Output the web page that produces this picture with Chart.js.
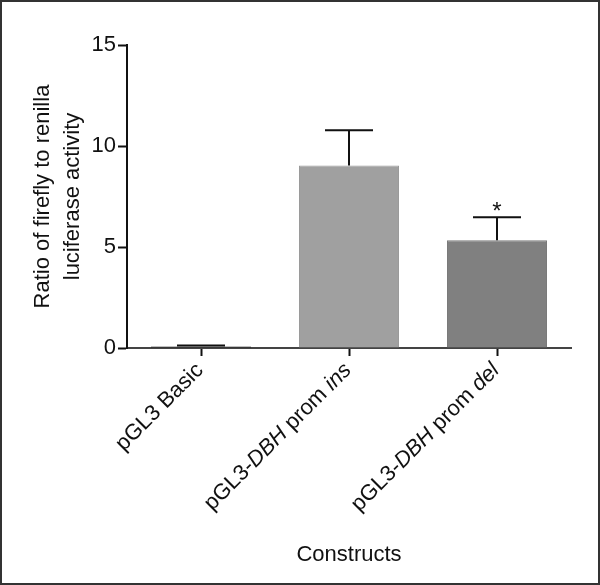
<!DOCTYPE html>
<html><head><meta charset="utf-8">
<script src="https://cdn.jsdelivr.net/npm/chart.js@4/dist/chart.umd.min.js"></script>
<style>
html,body{margin:0;padding:0;background:#fff;}
#wrap{position:relative;width:600px;height:585px;}
#frame{position:absolute;left:0;top:0;width:600px;height:585px;box-sizing:border-box;border:2px solid #333;pointer-events:none;}
canvas{display:block;}
</style></head><body>
<div id="wrap"><canvas id="c" width="600" height="585"></canvas><div id="frame"></div></div>
<script>
// ---- data ----
const categories = ['pGL3 Basic', 'pGL3-DBH prom ins', 'pGL3-DBH prom del'];
const italicTerms = [[], ['DBH', 'ins'], ['DBH', 'del']];
const means = [0.08, 9.03, 5.33];
const errors = [0.04, 1.75, 1.14];
const significance = ['', '', '*'];
const barColors = ['#111111', '#a0a0a0', '#808080'];
const barBorders = ['#000000', '#9a9a9a', '#7a7a7a'];
const yTicks = [0, 5, 10, 15];
const yTitle = ['Ratio of firefly to renilla', 'luciferase activity'];
const xTitle = 'Constructs';

const FONT = "'Liberation Sans', Arial, Helvetica, sans-serif";

function segmentsFor(label, terms) {
  const segs = [];
  const parts = label.split(/(\s|-)/);
  let cur = '', curIt = false;
  parts.forEach(p => {
    if (p === '') return;
    const it = terms.includes(p);
    if (cur !== '' && it !== curIt) { segs.push([cur, curIt]); cur = ''; }
    if (cur === '') curIt = it;
    cur += p;
  });
  if (cur !== '') segs.push([cur, curIt]);
  return segs;
}

const overlay = {
  id: 'overlay',
  afterDatasetsDraw(chart) {
    const ctx = chart.ctx;
    const y = chart.scales.y;
    const meta = chart.getDatasetMeta(0);
    ctx.save();
    ctx.strokeStyle = '#111';
    ctx.lineWidth = 2;
    meta.data.forEach((bar, i) => {
      const cx = bar.x;
      const top = y.getPixelForValue(means[i]);
      const et = y.getPixelForValue(means[i] + errors[i]);
      const half = bar.width * 0.24;
      ctx.beginPath();
      ctx.moveTo(cx, top);
      ctx.lineTo(cx, et);
      ctx.moveTo(cx - half, et);
      ctx.lineTo(cx + half, et);
      ctx.stroke();
      if (significance[i]) {
        ctx.fillStyle = '#111';
        ctx.font = '24px ' + FONT;
        ctx.textAlign = 'center';
        ctx.textBaseline = 'alphabetic';
        ctx.fillText(significance[i], cx, et + 2);
      }
    });
    ctx.restore();
  },
  afterDraw(chart) {
    const ctx = chart.ctx;
    const x = chart.scales.x;
    ctx.save();
    ctx.fillStyle = '#111';
    ctx.textBaseline = 'middle';
    categories.forEach((lab, i) => {
      const segs = segmentsFor(lab, italicTerms[i]);
      const px = x.getPixelForTick(i);
      const py = x.top + 19;
      let total = 0;
      const widths = segs.map(s => {
        ctx.font = (s[1] ? 'italic ' : '') + '22px ' + FONT;
        const w = ctx.measureText(s[0]).width;
        total += w;
        return w;
      });
      ctx.save();
      ctx.translate(px - 1, py);
      ctx.rotate(-Math.PI / 4);
      let pos = -total;
      segs.forEach((s, k) => {
        ctx.font = (s[1] ? 'italic ' : '') + '22px ' + FONT;
        ctx.textAlign = 'left';
        ctx.fillText(s[0], pos, 0);
        pos += widths[k];
      });
      ctx.restore();
    });
    ctx.restore();
  }
};

new Chart(document.getElementById('c'), {
  type: 'bar',
  data: {
    labels: categories,
    datasets: [{
      data: means,
      backgroundColor: barColors,
      borderColor: barBorders,
      borderWidth: 1,
      barPercentage: 0.676,
      categoryPercentage: 1.0
    }]
  },
  options: {
    responsive: false,
    animation: false,
    events: [],
    layout: { padding: { left: 0, right: 29, top: 45, bottom: 0 } },
    plugins: { legend: { display: false }, tooltip: { enabled: false } },
    scales: {
      x: {
        offset: true,
        grid: { display: true, drawOnChartArea: false, drawTicks: true, tickLength: 8, tickColor: '#111', tickWidth: 2, offset: false },
        border: { display: true, color: '#444', width: 2 },
        ticks: { display: false },
        title: { display: true, text: xTitle, font: { family: FONT, size: 22 }, color: '#111', padding: { top: 0, bottom: 17 } },
        afterFit(s) { s.height = 585 - 348; }
      },
      y: {
        min: 0, max: 15,
        afterBuildTicks(s) { s.ticks = yTicks.map(v => ({ value: v })); },
        grid: { display: true, drawOnChartArea: false, drawTicks: true, tickLength: 9, tickColor: '#111', tickWidth: 2 },
        border: { display: true, color: '#111', width: 2 },
        ticks: { font: { family: FONT, size: 22 }, color: '#111', padding: 2 },
        title: { display: true, text: yTitle, font: { family: FONT, size: 22, lineHeight: 1.36 }, color: '#111', padding: { top: 28, bottom: 0 } },
        afterFit(s) { s.width = 127; }
      }
    }
  },
  plugins: [overlay]
});
</script>
</body></html>
